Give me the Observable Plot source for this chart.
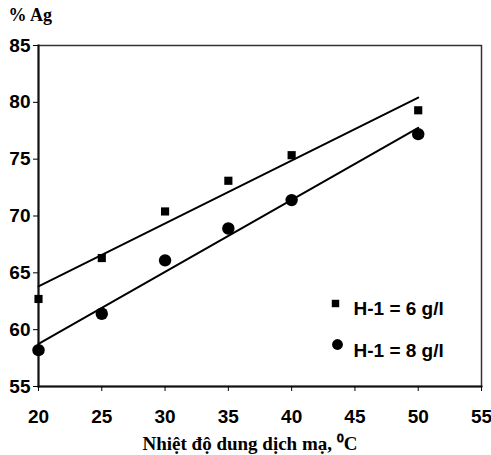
<!DOCTYPE html>
<html>
<head>
<meta charset="utf-8">
<script src="https://cdn.jsdelivr.net/npm/d3@7"></script>
<script src="https://cdn.jsdelivr.net/npm/@observablehq/plot@0.6"></script>
<style>
  html, body { margin: 0; padding: 0; background: #fff; }
</style>
</head>
<body>
<div id="chart"></div>
<script>
// Data
const temperatures = [20, 25, 30, 35, 40, 50];
const ag6 = [62.7, 66.3, 70.4, 73.1, 75.35, 79.3];   // H-1 = 6 g/l (squares)
const ag8 = [58.2, 61.4, 66.1, 68.9, 71.4, 77.2];    // H-1 = 8 g/l (circles)
const seriesLabels = ["H-1 = 6 g/l", "H-1 = 8 g/l"];
const xTicks = [20, 25, 30, 35, 40, 45, 50, 55];
const yTicks = [55, 60, 65, 70, 75, 80, 85];
const yTitle = "% Ag";
const xTitle = "Nhiệt độ dung dịch mạ, ⁰C";

const d6 = temperatures.map((t, i) => ({t, v: ag6[i]}));
const d8 = temperatures.map((t, i) => ({t, v: ag8[i]}));

const sans = "'Liberation Sans', Arial, sans-serif";
const serif = "'Liberation Serif', 'Times New Roman', serif";

const chart = Plot.plot({
  width: 491,
  height: 455,
  marginLeft: 38,
  marginRight: 10,
  marginTop: 45,
  marginBottom: 69,
  style: {fontFamily: sans, fontSize: "19px", fontWeight: "bold", color: "#000", background: "#fff"},
  x: {domain: [20, 55]},
  y: {domain: [55, 85]},
  marks: [
    Plot.frame({stroke: "#333", strokeWidth: 1.5}),
    Plot.frame({anchor: "left", stroke: "#111", strokeWidth: 2}),
    Plot.frame({anchor: "bottom", stroke: "#111", strokeWidth: 2}),
    Plot.axisX({ticks: xTicks, tickSize: 5, tickPadding: 18, label: null, fontSize: 19, fontWeight: "bold", stroke: "#000"}),
    Plot.axisY({ticks: yTicks, tickSize: 5, tickPadding: 3, label: null, fontSize: 19, fontWeight: "bold", stroke: "#000"}),
    Plot.linearRegressionY(d6, {x: "t", y: "v", ci: 0, stroke: "#000", strokeWidth: 2}),
    Plot.linearRegressionY(d8, {x: "t", y: "v", ci: 0, stroke: "#000", strokeWidth: 2}),
    Plot.dot(d6, {x: "t", y: "v", symbol: "square", r: 4.6, fill: "#000", stroke: "none"}),
    Plot.dot(d8, {x: "t", y: "v", symbol: "circle", r: 6.2, fill: "#000", stroke: "none"}),
    // legend
    Plot.dot([seriesLabels[0]], {frameAnchor: "top-left", dx: 297, dy: 258, symbol: "square", r: 4.2, fill: "#000", stroke: "none"}),
    Plot.dot([seriesLabels[1]], {frameAnchor: "top-left", dx: 299, dy: 299, symbol: "circle", r: 5.4, fill: "#000", stroke: "none"}),
    Plot.text([seriesLabels[0]], {text: d => d, frameAnchor: "top-left", dx: 315, dy: 256, textAnchor: "start", fontSize: 19, fontWeight: "bold", fontFamily: sans}),
    Plot.text([seriesLabels[1]], {text: d => d, frameAnchor: "top-left", dx: 315, dy: 298, textAnchor: "start", fontSize: 19, fontWeight: "bold", fontFamily: sans}),
    // axis titles
    Plot.text([yTitle], {text: d => d, frameAnchor: "top-left", dx: -30, dy: -25, lineAnchor: "bottom", textAnchor: "start", fontSize: 18, fontWeight: "bold", fontFamily: serif}),
    Plot.text([xTitle], {text: d => d, frameAnchor: "bottom", dx: -10, dy: 63, lineAnchor: "bottom", textAnchor: "middle", fontSize: 19, fontWeight: "bold", fontFamily: serif})
  ]
});
document.getElementById("chart").appendChild(chart);
</script>
</body>
</html>
